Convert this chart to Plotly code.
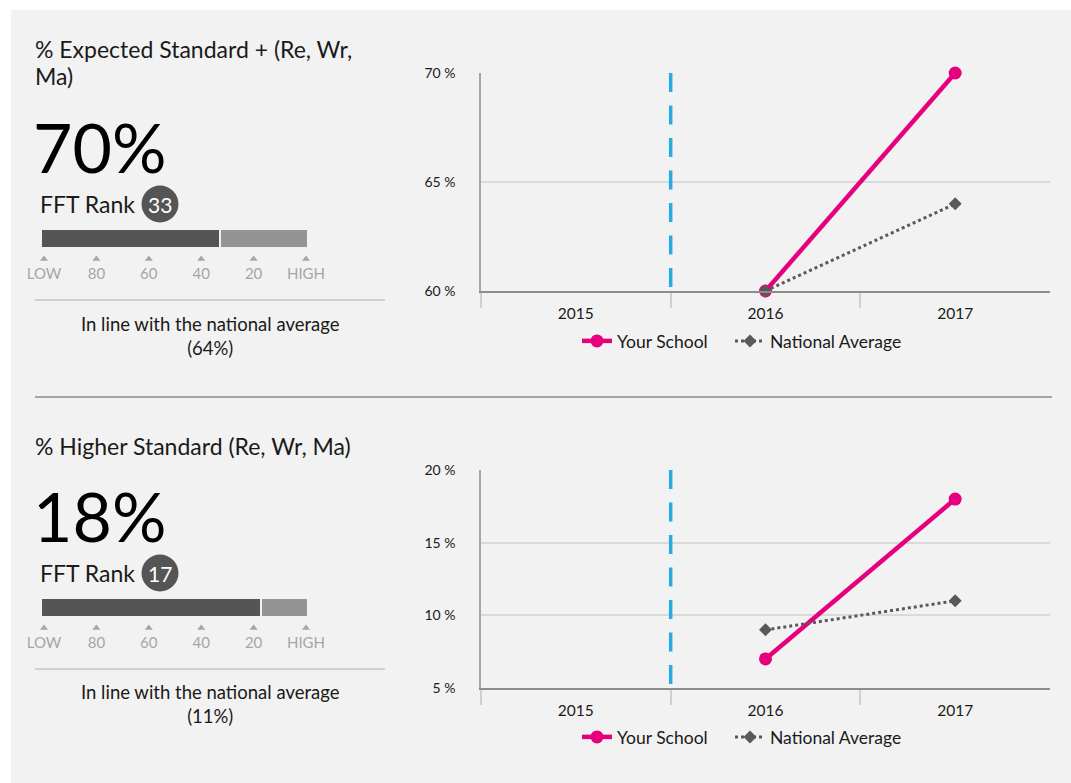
import plotly.graph_objects as go

W, H = 1071, 783

# ---------------- data ----------------
YEARS = ["2015", "2016", "2017"]
TOP_TITLE = ["% Expected Standard + (Re, Wr,", "Ma)"]
TOP_VALUE = "70%"
TOP_RANK = 33
TOP_NOTE = "In line with the national average<br>(64%)"
TOP_SCHOOL = [None, 60, 70]
TOP_NATIONAL = [None, 60, 64]
TOP_YTICKS = [60, 65, 70]
TOP_YTICK_LABELS = ["60 %", "65 %", "70 %"]

BOT_TITLE = ["% Higher Standard (Re, Wr, Ma)"]
BOT_VALUE = "18%"
BOT_RANK = 17
BOT_NOTE = "In line with the national average<br>(11%)"
BOT_SCHOOL = [None, 7, 18]
BOT_NATIONAL = [None, 9, 11]
BOT_YTICKS = [5, 10, 15, 20]
BOT_YTICK_LABELS = ["5 %", "10 %", "15 %", "20 %"]

RANK_TICKS = [100, 80, 60, 40, 20, 0]
RANK_LABELS = ["LOW", "80", "60", "40", "20", "HIGH"]

# ---------------- style ----------------
PINK = "#e6007e"
GREY = "#595959"
BLUE = "#29abe2"
PANEL = "#f2f2f2"
FONT = "Lato"
RANK_RANGE = [101.15, -0.76]

# screen mapping measured from the renderer (drawing offset 8px, 766px tall)
OFF_Y, DRAW_H = 8, 766


def X(px):
    return px / W


def Y(py):
    return 1 - (py - OFF_Y) / DRAW_H


fig = go.Figure()
shapes = []
annotations = []

# background panel
shapes.append(dict(type="rect", xref="paper", yref="paper", x0=X(11), x1=X(1080),
                   y0=-0.05, y1=Y(9), fillcolor=PANEL, line=dict(width=0), layer="below"))

sections = [
    dict(title=TOP_TITLE, value=TOP_VALUE, rank=TOP_RANK, note=TOP_NOTE,
         school=TOP_SCHOOL, nat=TOP_NATIONAL,
         plot_top=72, plot_bot=290, legend_y=340, bar_top=228,
         title_y=48, value_y=145, rank_y=203, sep_y=299, note_y=335,
         xa="x", ya="y", rxa="x3", rya="y3", leg_a="legend", leg_b="legend3"),
    dict(title=BOT_TITLE, value=BOT_VALUE, rank=BOT_RANK, note=BOT_NOTE,
         school=BOT_SCHOOL, nat=BOT_NATIONAL,
         plot_top=469, plot_bot=687, legend_y=736, bar_top=597,
         title_y=445, value_y=514, rank_y=572, sep_y=668, note_y=703,
         xa="x2", ya="y2", rxa="x4", rya="y4", leg_a="legend2", leg_b="legend4"),
]

# rank strip axis is in pixel-like units: 0 = top of bar, negative = downwards
STRIP_H = 58
BAR_H = 19
TRI_Y = -30
LAB_Y = -46

for s in sections:
    # ---- line chart ----
    fig.add_trace(go.Scatter(
        x=YEARS, y=s["school"], name="Your School", mode="lines+markers",
        line=dict(color=PINK, width=4.5), marker=dict(color=PINK, size=13, symbol="circle"),
        xaxis=s["xa"], yaxis=s["ya"], legend=s["leg_a"], cliponaxis=False))
    fig.add_trace(go.Scatter(
        x=YEARS, y=s["nat"], name="National Average", mode="lines+markers",
        line=dict(color=GREY, width=3, dash="dot"), marker=dict(color=GREY, size=10, symbol="diamond"),
        xaxis=s["xa"], yaxis=s["ya"], legend=s["leg_b"], cliponaxis=False))

    # ---- rank bar ----
    fig.add_trace(go.Bar(
        y=[-BAR_H / 2], x=[s["rank"] - RANK_RANGE[0]], base=[RANK_RANGE[0]], orientation="h",
        marker=dict(color="#555555", line=dict(color=PANEL, width=2)), width=BAR_H,
        xaxis=s["rxa"], yaxis=s["rya"], showlegend=False, hoverinfo="skip"))
    fig.add_trace(go.Bar(
        y=[-BAR_H / 2], x=[RANK_RANGE[1] - s["rank"]], base=[s["rank"]], orientation="h",
        marker=dict(color="#949494", line=dict(color=PANEL, width=2)), width=BAR_H,
        xaxis=s["rxa"], yaxis=s["rya"], showlegend=False, hoverinfo="skip"))
    fig.add_trace(go.Scatter(
        x=RANK_TICKS, y=[TRI_Y] * len(RANK_TICKS), mode="markers",
        marker=dict(symbol="triangle-up", size=7, color="#a6a6a6"),
        xaxis=s["rxa"], yaxis=s["rya"], showlegend=False, hoverinfo="skip", cliponaxis=False))
    fig.add_trace(go.Scatter(
        x=RANK_TICKS, y=[LAB_Y] * len(RANK_TICKS), mode="text",
        text=RANK_LABELS, textposition="middle center",
        textfont=dict(family=FONT, size=15, color="#a6a6a6"),
        xaxis=s["rxa"], yaxis=s["rya"], showlegend=False, hoverinfo="skip", cliponaxis=False))

    # ---- left texts ----
    for i, line in enumerate(s["title"]):
        annotations.append(dict(x=X(33), y=Y(s["title_y"] + 27 * i), xref="paper", yref="paper",
                                text=line, showarrow=False, xanchor="left", yanchor="middle",
                                align="left", font=dict(family=FONT, size=23, color="#1a1a1a")))
    annotations.append(dict(x=X(31), y=Y(s["value_y"]), xref="paper", yref="paper",
                            text=s["value"], showarrow=False, xanchor="left", yanchor="middle",
                            font=dict(family=FONT, size=68, color="#000000")))
    annotations.append(dict(x=X(38), y=Y(s["rank_y"]), xref="paper", yref="paper",
                            text="FFT Rank", showarrow=False, xanchor="left", yanchor="middle",
                            font=dict(family=FONT, size=23, color="#1a1a1a")))
    shapes.append(dict(type="circle", xref="paper", yref="paper",
                       x0=X(141.5), x1=X(178.5), y0=Y(s["rank_y"] + 18.5), y1=Y(s["rank_y"] - 18.5),
                       fillcolor="#555555", line=dict(width=0)))
    annotations.append(dict(x=X(160), y=Y(s["rank_y"]), xref="paper", yref="paper",
                            text=str(s["rank"]), showarrow=False, xanchor="center", yanchor="middle",
                            font=dict(family=FONT, size=21, color="#ffffff")))
    shapes.append(dict(type="line", xref="paper", yref="paper", x0=X(35), x1=X(385),
                       y0=Y(s["sep_y"]), y1=Y(s["sep_y"]), line=dict(color="#d0d0d0", width=2)))
    annotations.append(dict(x=X(210), y=Y(s["note_y"]), xref="paper", yref="paper",
                            text=s["note"], showarrow=False, xanchor="center", yanchor="middle",
                            align="center", font=dict(family=FONT, size=18.5, color="#1a1a1a")))

    # ---- dashed divider in chart (drawn from the top down) ----
    shapes.append(dict(type="line", xref=s["xa"], yref=s["ya"] + " domain", x0=0.5, x1=0.5,
                       y0=1, y1=0.0, line=dict(color=BLUE, width=3.5, dash="19px,13.5px")))

# section separator
shapes.append(dict(type="line", xref="paper", yref="paper", x0=X(35), x1=X(1052),
                   y0=Y(396), y1=Y(396), line=dict(color="#a6a6a6", width=2)))

common_x = dict(type="category", range=[-0.5, 2.5], tickson="boundaries", ticks="outside",
                ticklen=15, tickcolor="#d0d0d0", tickwidth=1.5, showline=True, linecolor="#8c8c8c",
                linewidth=1.5, showgrid=False, zeroline=False, ticklabelstandoff=8,
                tickfont=dict(family=FONT, size=15.5, color="#1a1a1a"), fixedrange=True)
common_y = dict(showline=True, linecolor="#a6a6a6", linewidth=1.5, showgrid=True,
                gridcolor="#d9d9d9", gridwidth=1.5, zeroline=False, ticks="",
                ticklabelstandoff=21,
                tickfont=dict(family=FONT, size=14, color="#1a1a1a"),
                fixedrange=True)

rank_x = dict(range=RANK_RANGE, showgrid=False, zeroline=False, showticklabels=False,
              showline=False, fixedrange=True)
rank_y = dict(range=[-STRIP_H, 0], showgrid=False, zeroline=False, showticklabels=False,
              showline=False, fixedrange=True)

legend_common = dict(orientation="h", xanchor="left", yanchor="middle",
                     bgcolor="rgba(0,0,0,0)", font=dict(family=FONT, size=17.5, color="#1a1a1a"),
                     itemwidth=30)

top, bot = sections
fig.update_layout(
    width=W, height=H, margin=dict(l=0, r=0, t=0, b=0),
    paper_bgcolor="#ffffff", plot_bgcolor="rgba(0,0,0,0)",
    font=dict(family=FONT), barmode="overlay", bargap=0,
    xaxis=dict(common_x, domain=[X(481), X(1050)], anchor="y"),
    yaxis=dict(common_y, domain=[Y(top["plot_bot"]), Y(top["plot_top"])], anchor="x",
               range=[60, 70], tickvals=TOP_YTICKS, ticktext=TOP_YTICK_LABELS),
    xaxis2=dict(common_x, domain=[X(481), X(1050)], anchor="y2"),
    yaxis2=dict(common_y, domain=[Y(bot["plot_bot"]), Y(bot["plot_top"])], anchor="x2",
                range=[5, 20], tickvals=BOT_YTICKS, ticktext=BOT_YTICK_LABELS),
    xaxis3=dict(rank_x, domain=[X(41), X(308)], anchor="y3"),
    yaxis3=dict(rank_y, domain=[Y(top["bar_top"] + STRIP_H), Y(top["bar_top"])], anchor="x3"),
    xaxis4=dict(rank_x, domain=[X(41), X(308)], anchor="y4"),
    yaxis4=dict(rank_y, domain=[Y(bot["bar_top"] + STRIP_H), Y(bot["bar_top"])], anchor="x4"),
    legend=dict(legend_common, x=X(577), y=Y(top["legend_y"])),
    legend3=dict(legend_common, x=X(730), y=Y(top["legend_y"])),
    legend2=dict(legend_common, x=X(577), y=Y(bot["legend_y"])),
    legend4=dict(legend_common, x=X(730), y=Y(bot["legend_y"])),
    shapes=shapes, annotations=annotations,
)

fig.write_html("out.html", config={"displayModeBar": False},
               post_script="document.body.style.margin='0';")
